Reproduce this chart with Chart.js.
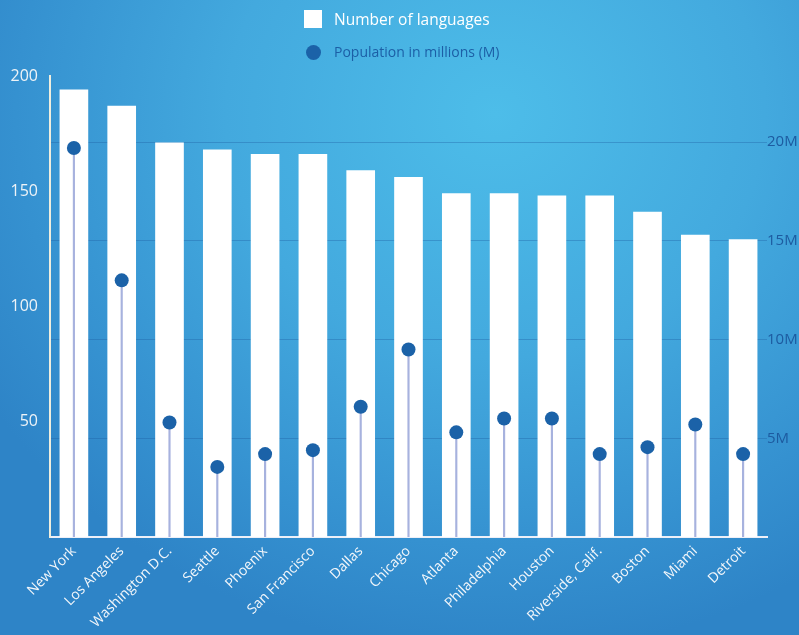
<!DOCTYPE html>
<html>
<head>
<meta charset="utf-8">
<script src="https://cdn.jsdelivr.net/npm/chart.js@4/dist/chart.umd.min.js"></script>
<style>
  html, body { margin: 0; padding: 0; }
  body {
    width: 799px; height: 635px; overflow: hidden; position: relative;
    background: radial-gradient(ellipse 75% 85% at 62% 18%, #4dbde9 0%, #43a9de 45%, #3591d0 80%, #2e84c7 100%);
    font-family: "Open Sans", sans-serif;
  }
  #wrap { position: absolute; left: 0; top: 0; width: 799px; height: 635px; }
  .legend { position: absolute; left: 304px; }
  .legend .sw { position: absolute; left: 0; }
  .legend span { position: absolute; left: 30px; white-space: nowrap; }
</style>
</head>
<body>
<div id="wrap"><canvas id="cityChart"></canvas></div>

<div class="legend" style="top:10px">
  <div class="sw" style="width:18px;height:18px;background:#fff;"></div>
  <span style="color:#ffffff;top:-2px;font-size:15.5px;">Number of languages</span>
</div>
<div class="legend" style="top:45px">
  <div class="sw" style="left:2px;width:15px;height:15px;border-radius:50%;background:#1b62a8;"></div>
  <span style="color:#1c5fa6;top:-3px;font-size:14px;">Population in millions (M)</span>
</div>

<script>
// data
const cities = ["New York", "Los Angeles", "Washington D.C.", "Seattle", "Phoenix", "San Francisco",
  "Dallas", "Chicago", "Atlanta", "Philadelphia", "Houston", "Riverside, Calif.", "Boston", "Miami", "Detroit"];
const languages = [194, 187, 171, 168, 166, 166, 159, 156, 149, 149, 148, 148, 141, 131, 129];
const population = [19.7, 13.0, 5.8, 3.55, 4.2, 4.4, 6.6, 9.5, 5.3, 6.0, 6.0, 4.2, 4.55, 5.7, 4.2];
const leftTicks = [50, 100, 150, 200];
const rightTicks = [5, 10, 15, 20];

const ctx = document.getElementById("cityChart").getContext("2d");

new Chart(ctx, {
  data: {
    labels: cities,
    datasets: [
      {
        type: "line",
        label: "Population in millions (M)",
        data: population,
        yAxisID: "y2",
        showLine: false,
        pointRadius: 7,
        pointHoverRadius: 7,
        pointBackgroundColor: "#1b62a8",
        pointBorderWidth: 0,
        order: 0
      },
      {
        // stems under the dots
        type: "bar",
        label: "stem",
        data: population,
        yAxisID: "y2",
        backgroundColor: "#a7b2de",
        barThickness: 1.5,
        grouped: false,
        order: 1
      },
      {
        type: "bar",
        label: "Number of languages",
        data: languages,
        yAxisID: "y",
        backgroundColor: "#ffffff",
        barThickness: 28,
        grouped: false,
        order: 2
      }
    ]
  },
  options: {
    responsive: true,
    maintainAspectRatio: false,
    animation: false,
    layout: { padding: { top: 76, left: 0, right: 0, bottom: 0 } },
    plugins: {
      legend: { display: false },
      tooltip: { enabled: false }
    },
    scales: {
      x: {
        offset: true,
        grid: { display: false, drawTicks: false },
        border: { display: true, color: "#eef0f8", width: 2 },
        ticks: {
          color: "#f2f6fa",
          font: { family: "Open Sans", size: 14 },
          minRotation: 45,
          maxRotation: 45,
          padding: 6,
          autoSkip: false
        },
        afterFit: s => { s.height = 98; }
      },
      y: {
        position: "left",
        min: 0,
        max: 200,
        afterBuildTicks: s => { s.ticks = leftTicks.map(v => ({ value: v })); },
        grid: { display: false, drawTicks: false },
        border: { display: true, color: "#efeede", width: 2 },
        ticks: {
          color: "#eef3f7",
          font: { family: "Open Sans", size: 16 },
          padding: 12
        },
        afterFit: s => { s.width = 50; }
      },
      y2: {
        position: "right",
        min: 0,
        max: 23.35,
        afterBuildTicks: s => { s.ticks = rightTicks.map(v => ({ value: v })); },
        grid: { color: "rgba(28,92,160,0.35)", lineWidth: 1, drawTicks: false },
        border: { display: false },
        ticks: {
          color: "#1d5ba0",
          font: { family: "Open Sans", size: 15 },
          padding: 0,
          callback: v => v + "M"
        },
        afterFit: s => { s.width = 32; }
      }
    }
  }
});
</script>
</body>
</html>
